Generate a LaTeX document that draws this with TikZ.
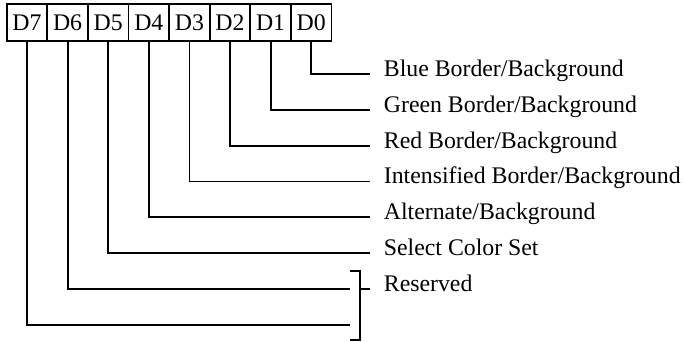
\documentclass[tikz,border=0pt]{standalone}
\usepackage{fontspec}
\setmainfont{Liberation Serif}
\usetikzlibrary{positioning}

\begin{document}
\begin{tikzpicture}[x=1pt, y=-1pt, line width=1.8pt, node distance=0pt,
 every node/.style={font=\fontsize{23.8}{28}\selectfont},
 bitbox/.style={draw,outer sep=0pt,inner sep=0pt,minimum width=40.6pt,minimum height=37pt},
 lbl/.style={anchor=west,inner xsep=13pt,inner ysep=0pt,text height=0.7em,text depth=0.22em}]
\useasboundingbox (0,0) rectangle (685,342);
% register bits
\node[bitbox] (d7) at (27,22.5) {D7};
\node[bitbox,right=of d7] (d6) {D6};
\node[bitbox,right=of d6] (d5) {D5};
\node[bitbox,right=of d5] (d4) {D4};
\node[bitbox,right=of d4] (d3) {D3};
\node[bitbox,right=of d3] (d2) {D2};
\node[bitbox,right=of d2] (d1) {D1};
\node[bitbox,right=of d1] (d0) {D0};
% bit meanings
\node[lbl] (l0) at (370,74) {Blue Border/Background};
\node[lbl] (l1) at (370,109.8) {Green Border/Background};
\node[lbl] (l2) at (370,145.6) {Red Border/Background};
\node[lbl] (l3) at (370,181.4) {Intensified Border/Background};
\node[lbl] (l4) at (370,217.2) {Alternate/Background};
\node[lbl] (l5) at (370,253) {Select Color Set};
\node[lbl] (l6) at (370,288.8) {Reserved};
\coordinate (r6) at (350,288.8);
\coordinate (r7) at (350,324.6);
\coordinate (bt) at (350,271);
\coordinate (bb) at (350,340);
\draw (d0.south) |- (l0.west);\draw (d1.south) |- (l1.west);
\draw (d2.south) |- (l2.west);\draw (d3.south) |- (l3.west);
\draw (d4.south) |- (l4.west);\draw (d5.south) |- (l5.west);
\draw (d6.south) |- (r6);\draw (d7.south) |- (r7);
% bracket for the reserved bits
\draw (bt) -- ++(10,0) |- (bb);
\draw (l6.west) -- ++(-10,0);
\end{tikzpicture}
\end{document}
